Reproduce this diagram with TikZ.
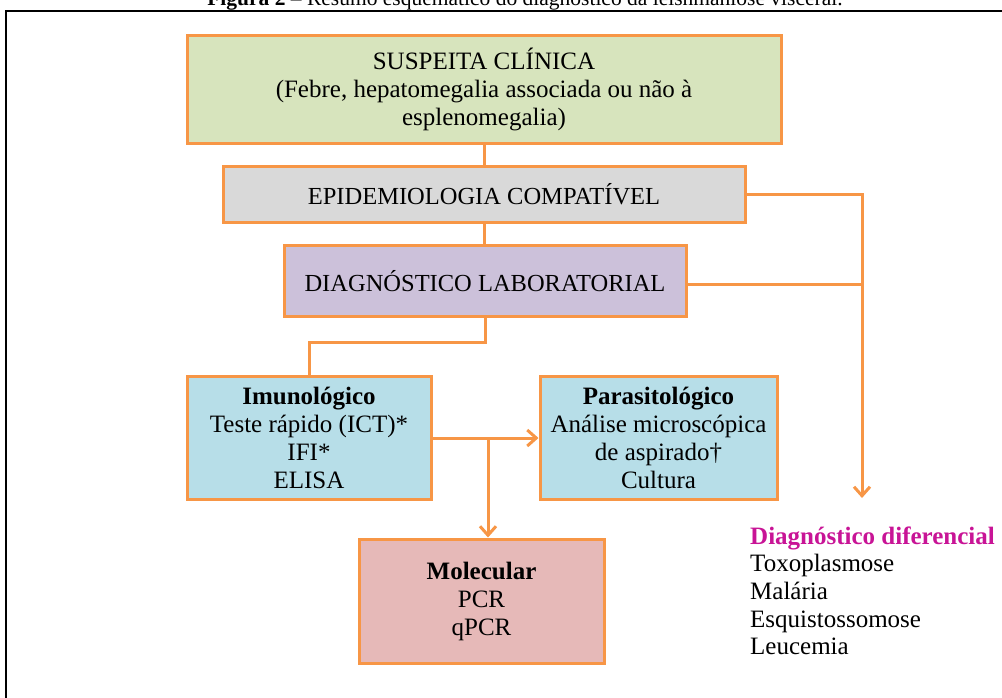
\documentclass[tikz,border=0pt]{standalone}
\usepackage{fontspec}
\setmainfont{Liberation Serif}
\usetikzlibrary{arrows.meta}
\definecolor{orangeC}{HTML}{F79646}
\definecolor{greenC}{HTML}{D7E4BD}
\definecolor{grayC}{HTML}{D9D9D9}
\definecolor{purpleC}{HTML}{CCC1DA}
\definecolor{blueC}{HTML}{B7DEE8}
\definecolor{pinkC}{HTML}{E6B9B8}
\definecolor{magentaC}{RGB}{200,20,150}
\tikzset{
  box/.style={draw=orangeC, line width=3pt, rectangle, align=center, inner sep=0pt,
    font=\fontsize{25}{28}\selectfont},
  conn/.style={draw=orangeC, line width=3pt},
  arr/.style={conn, -{Straight Barb[length=9pt,width=16pt,line width=3pt]}},
  txt/.style={anchor=base west, inner sep=0pt, font=\fontsize{25}{28}\selectfont}
}
\begin{document}
\begin{tikzpicture}[x=1pt,y=-1pt]
\useasboundingbox (0,0) rectangle (1002,697);
\clip (0,0) rectangle (1002,697);
\node[anchor=base, inner sep=0pt, font=\fontsize{21.5}{24}\selectfont] (cap) at (525,5)
  {\textbf{Figura 2} – Resumo esquemático do diagnóstico da leishmaniose visceral.};
\draw[line width=2.7pt] (6,11) rectangle (1015,715);

\node[box, fill=greenC, minimum width=594pt, minimum height=108pt] (susp) at (484,89)
  {SUSPEITA CLÍNICA\\(Febre, hepatomegalia associada ou não à\\esplenomegalia)};
\node[box, fill=grayC, minimum width=522pt, minimum height=56pt, font=\fontsize{24.5}{28}\selectfont] (epid) at (484,194)
  {EPIDEMIOLOGIA COMPATÍVEL};
\node[box, fill=purpleC, minimum width=402pt, minimum height=71pt, font=\fontsize{24.5}{28}\selectfont] (diag) at (485,281)
  {DIAGNÓSTICO LABORATORIAL};
\node[box, fill=blueC, minimum width=244pt, minimum height=123pt] (imuno) at (309,438)
  {\textbf{Imunológico}\\Teste rápido (ICT)*\\IFI*\\ELISA};
\node[box, fill=blueC, minimum width=237pt, minimum height=123pt] (paras) at (658.5,438)
  {\textbf{Parasitológico}\\Análise microscópica\\de aspirado†\\Cultura};
\node[box, fill=pinkC, minimum width=245pt, minimum height=124pt] (molec) at (481.5,601)
  {\textbf{Molecular}\\PCR\\qPCR};

\draw[conn] (susp.south) -- (susp.south |- epid.north);
\draw[conn] (epid.south) -- (epid.south |- diag.north);
\draw[conn] (diag.south) -- ++(0,24) -| (imuno.north);
\draw[arr] (imuno.east) -- (paras.west);
\coordinate (br) at (488,438);
\draw[arr] (br) -- (br |- molec.north);
\coordinate (dd) at (862,498);
\draw[arr] (epid.east) -| (dd);
\draw[conn] ([yshift=-3pt]diag.east) -- ([yshift=-3pt]diag.east -| dd);

\node[txt, font=\fontsize{25}{28}\selectfont\bfseries, text=magentaC] (dh) at (750,544) {Diagnóstico diferencial};
\node[txt] (d1) at (750,571.7) {Toxoplasmose};
\node[txt] (d2) at (750,599.4) {Malária};
\node[txt] (d3) at (750,627.1) {Esquistossomose};
\node[txt] (d4) at (750,654.8) {Leucemia};
\end{tikzpicture}
\end{document}
